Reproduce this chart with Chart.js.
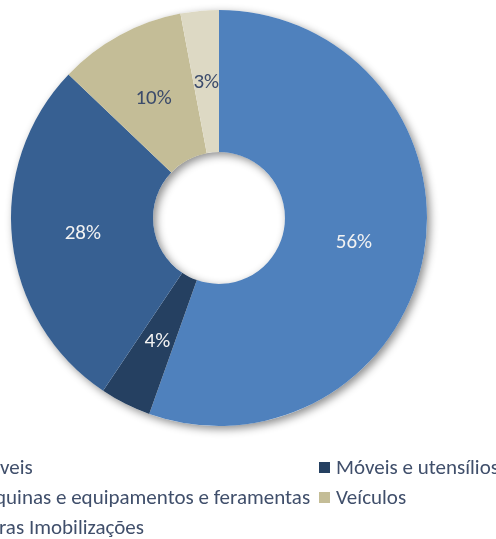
<!DOCTYPE html>
<html>
<head>
<meta charset="utf-8">
<script src="https://cdn.jsdelivr.net/npm/chart.js@4"></script>
<style>
  html, body { margin: 0; padding: 0; background: #fff; overflow: hidden; }
  #wrap { position: relative; width: 496px; height: 539px; overflow: hidden; }
  #chartBox { position: absolute; left: 0; top: 0; width: 496px; height: 440px; }
  #legend { position: absolute; left: 0; top: 0; width: 496px; height: 539px; pointer-events: none; }
  .item { position: absolute; font: 21px Calibri, Carlito, Lato, sans-serif; color: #404F6B; white-space: nowrap; line-height: 21px; }
  .item span.box { position: absolute; width: 11px; height: 11px; left: -17px; top: 5px; }
</style>
</head>
<body>
<div id="wrap">
  <div id="chartBox"><canvas id="assetsChart"></canvas></div>
  <div id="legend"></div>
</div>
<script>
// Asset categories and their share of the total (%)
const categories = [
  "Imóveis",
  "Móveis e utensílios",
  "Máquinas e equipamentos e feramentas",
  "Veículos",
  "Outras Imobilizações",
];
const shares = [56, 4, 28, 10, 3];

// Slice colours and the colour of the label printed on each slice
const sliceColors = ["#4F81BD", "#254061", "#376092", "#C4BD97", "#DDD9C4"];
const labelColors = ["#F2F2F2", "#F2F2F2", "#F2F2F2", "#3B4B6B", "#3B4B6B"];

// Soft drop shadow under the whole ring
const ringShadow = {
  id: "ringShadow",
  beforeDatasetsDraw(chart) {
    const arcs = chart.getDatasetMeta(0).data;
    if (!arcs.length) return;
    const { x, y, outerRadius, innerRadius } = arcs[0].getProps(["x", "y", "outerRadius", "innerRadius"], true);
    const ctx = chart.ctx;
    ctx.save();
    ctx.shadowColor = "rgba(0, 0, 0, 0.45)";
    ctx.shadowBlur = 8;
    ctx.shadowOffsetX = 3;
    ctx.shadowOffsetY = 3;
    ctx.fillStyle = "#ffffff";
    ctx.beginPath();
    ctx.arc(x, y, outerRadius, 0, Math.PI * 2);
    ctx.arc(x, y, innerRadius, 0, Math.PI * 2, true);
    ctx.closePath();
    ctx.fill();
    ctx.restore();
  },
};

// Percentage printed in the middle of each slice
const sliceLabels = {
  id: "sliceLabels",
  afterDatasetsDraw(chart) {
    const ctx = chart.ctx;
    const meta = chart.getDatasetMeta(0);
    ctx.save();
    ctx.font = "21px Calibri, Carlito, Lato, sans-serif";
    ctx.textAlign = "center";
    ctx.textBaseline = "middle";
    meta.data.forEach((arc, i) => {
      const pos = arc.tooltipPosition(true);
      ctx.fillStyle = labelColors[i];
      ctx.fillText(chart.data.datasets[0].data[i] + "%", pos.x, pos.y + 1);
    });
    ctx.restore();
  },
};

const chart = new Chart(document.getElementById("assetsChart"), {
  type: "doughnut",
  data: {
    labels: categories,
    datasets: [
      {
        data: shares,
        backgroundColor: sliceColors,
        borderWidth: 0,
      },
    ],
  },
  options: {
    responsive: true,
    maintainAspectRatio: false,
    animation: false,
    cutout: "31.7%",
    layout: { padding: { left: 11, top: 10, right: 69, bottom: 14 } },
    plugins: {
      legend: { display: false },
      tooltip: { enabled: false },
    },
  },
  plugins: [ringShadow, sliceLabels],
});

// Two-column legend below the ring, built from the chart's own labels/colours
const legendEl = document.getElementById("legend");
const colLeft = [-33, 336];
const rowTop = [457, 487, 517];
chart.data.labels.forEach((label, i) => {
  const item = document.createElement("div");
  item.className = "item";
  item.style.left = colLeft[i % 2] + "px";
  item.style.top = rowTop[Math.floor(i / 2)] + "px";
  const box = document.createElement("span");
  box.className = "box";
  box.style.background = chart.data.datasets[0].backgroundColor[i];
  item.appendChild(box);
  item.appendChild(document.createTextNode(label));
  legendEl.appendChild(item);
});
</script>
</body>
</html>
